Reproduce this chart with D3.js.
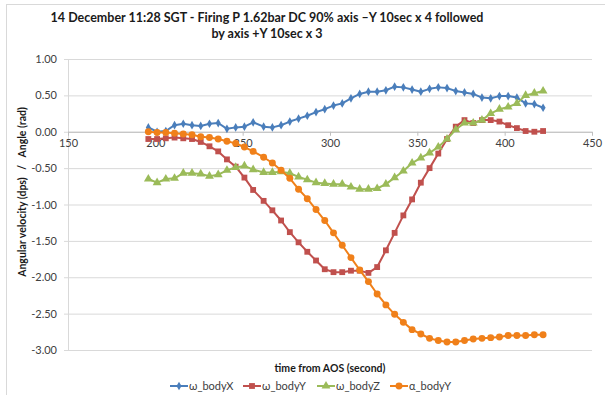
<!DOCTYPE html>
<html>
<head>
<meta charset="utf-8">
<script src="https://cdn.jsdelivr.net/npm/d3@7"></script>
<style>
  html, body { margin: 0; padding: 0; background: #fff; }
  svg { display: block; font-family: Lato, "Open Sans", sans-serif; }
  text { white-space: pre; }
</style>
</head>
<body>
<svg id="chart" width="605" height="395"></svg>
<script>
// Sample times (seconds from AOS)
const times = [196, 201, 206, 211, 216, 221, 226, 231, 236, 241, 246, 251, 256, 262, 267, 272,
  277, 282, 287, 292, 297, 302, 307, 312, 317, 322, 327, 332, 337, 342, 347, 352,
  357, 362, 367, 372, 377, 382, 387, 392, 397, 402, 407, 412, 417, 422];

const omegaX = [0.06, 0.00, 0.01, 0.09, 0.11, 0.09, 0.08, 0.11, 0.12, 0.04, 0.06, 0.07, 0.13, 0.07, 0.06, 0.09,
  0.14, 0.18, 0.22, 0.27, 0.31, 0.36, 0.39, 0.46, 0.52, 0.55, 0.55, 0.57, 0.62, 0.61, 0.58, 0.55,
  0.59, 0.61, 0.60, 0.56, 0.54, 0.52, 0.47, 0.46, 0.49, 0.49, 0.47, 0.39, 0.38, 0.33];

const omegaY = [-0.10, -0.10, -0.09, -0.08, -0.09, -0.10, -0.14, -0.20, -0.27, -0.38, -0.48, -0.63, -0.80, -0.95, -1.08, -1.22,
  -1.38, -1.52, -1.65, -1.77, -1.89, -1.93, -1.93, -1.91, -1.91, -1.94, -1.86, -1.63, -1.39, -1.15, -0.93, -0.70,
  -0.50, -0.30, -0.10, 0.07, 0.16, 0.12, 0.16, 0.16, 0.14, 0.09, 0.05, 0.01, 0.00, 0.01];

const omegaZ = [-0.65, -0.70, -0.65, -0.64, -0.57, -0.57, -0.58, -0.61, -0.59, -0.53, -0.49, -0.47, -0.52, -0.56, -0.56, -0.55,
  -0.57, -0.62, -0.66, -0.70, -0.71, -0.72, -0.72, -0.76, -0.79, -0.79, -0.78, -0.72, -0.63, -0.54, -0.43, -0.36,
  -0.29, -0.21, -0.10, 0.03, 0.12, 0.12, 0.16, 0.25, 0.31, 0.34, 0.39, 0.50, 0.53, 0.56];

const alphaY = [0.00, -0.01, -0.01, -0.02, -0.03, -0.04, -0.07, -0.08, -0.10, -0.13, -0.16, -0.21, -0.27, -0.35, -0.43, -0.53,
  -0.64, -0.79, -0.92, -1.07, -1.22, -1.39, -1.56, -1.73, -1.90, -2.06, -2.23, -2.38, -2.51, -2.62, -2.72, -2.78,
  -2.84, -2.87, -2.89, -2.89, -2.87, -2.85, -2.84, -2.83, -2.82, -2.80, -2.80, -2.80, -2.79, -2.79];

const seriesNames = ["ω_bodyX", "ω_bodyY", "ω_bodyZ", "α_bodyY"];
const seriesColors = ["#4A7EBB", "#C0504D", "#9BBB59", "#F0801A"];
const seriesSymbols = [d3.symbolDiamond, d3.symbolSquare, d3.symbolTriangle, d3.symbolCircle];
const seriesSizes = [22, 34, 34, 38];

const xTicks = [150, 200, 250, 300, 350, 400, 450];
const yTicks = [1.0, 0.5, 0.0, -0.5, -1.0, -1.5, -2.0, -2.5, -3.0];

const titleLines = ["14 December 11:28 SGT - Firing P 1.62bar DC 90% axis \u2013Y 10sec x 4 followed",
                    "by axis +Y 10sec x 3"];
const xTitle = "time from AOS (second)";
const yTitle = "Angular velocity (dps)   /   Angle (rad)";

const svg = d3.select("#chart");

// Outer chart frame
svg.append("rect")
  .attr("x", 6.5).attr("y", 4.5).attr("width", 640).attr("height", 400)
  .attr("fill", "none").attr("stroke", "#d9d9d9").attr("stroke-width", 1);

const x = d3.scaleLinear().domain([150, 450]).range([68, 592]);
const y = d3.scaleLinear().domain([-3, 1]).range([350, 59]);

// Horizontal gridlines with short outward ticks
const yAxis = d3.axisLeft(y).tickValues(yTicks).tickSize(-(592 - 68)).tickFormat(d3.format(".2f"));
const gy = svg.append("g").attr("transform", "translate(68,0)").call(yAxis);
gy.select(".domain").remove();
gy.selectAll(".tick line").attr("stroke", "#d9d9d9").attr("x1", -4);
gy.selectAll(".tick text")
  .attr("x", -11).attr("font-size", 11).attr("fill", "#404040")
  .style("font-family", "Lato, sans-serif")
  .text(d => d3.format(".2f")(d).replace("−", "-"));

// Vertical axis line
svg.append("line")
  .attr("x1", 68.5).attr("x2", 68.5).attr("y1", y(1)).attr("y2", y(-3))
  .attr("stroke", "#d9d9d9");

// Horizontal axis crossing at zero
const xAxis = d3.axisBottom(x).tickValues(xTicks).tickSize(4).tickPadding(3).tickFormat(d3.format("d"));
const gx = svg.append("g").attr("transform", `translate(0,${y(0)})`).call(xAxis);
gx.select(".domain").attr("stroke", "#bfbfbf").attr("d", `M${x(150)},0.5H${x(450)}`);
gx.selectAll(".tick line").attr("stroke", "#bfbfbf");
gx.selectAll(".tick text").attr("font-size", 11).attr("fill", "#404040")
  .style("font-family", "Lato, sans-serif");

// Series lines and markers
const allSeries = [omegaX, omegaY, omegaZ, alphaY];
const line = d3.line().x((d, i) => x(times[i])).y(d => y(d));

allSeries.forEach((vals, s) => {
  const g = svg.append("g");
  g.append("path")
    .datum(vals)
    .attr("d", line)
    .attr("fill", "none")
    .attr("stroke", seriesColors[s])
    .attr("stroke-width", 2)
    .attr("stroke-linejoin", "round");
  const sym = d3.symbol().type(seriesSymbols[s]).size(seriesSizes[s]);
  g.selectAll("path.mk")
    .data(vals)
    .join("path")
    .attr("class", "mk")
    .attr("d", sym)
    .attr("transform", (d, i) => `translate(${x(times[i])},${y(d)})`)
    .attr("fill", seriesColors[s]);
});

// Title
svg.append("g").selectAll("text")
  .data(titleLines)
  .join("text")
  .attr("x", 267).attr("y", (d, i) => 22 + i * 16)
  .attr("text-anchor", "middle")
  .attr("font-size", 12.5).attr("font-weight", "bold").attr("fill", "#1a1a1a")
  .text(d => d);

// Axis titles
svg.append("text")
  .attr("x", x(300)).attr("y", 372)
  .attr("text-anchor", "middle")
  .attr("font-size", 10.5).attr("font-weight", "bold").attr("fill", "#1a1a1a")
  .text(xTitle);

svg.append("text")
  .attr("transform", "translate(26,192) rotate(-90)")
  .attr("text-anchor", "middle")
  .attr("font-size", 10.5).attr("font-weight", "bold").attr("fill", "#1a1a1a")
  .text(yTitle);

// Legend
const legendX = [170, 243, 317, 390];
const legend = svg.append("g").attr("transform", "translate(0,386)");
seriesNames.forEach((name, s) => {
  const item = legend.append("g").attr("transform", `translate(${legendX[s]},0)`);
  item.append("line").attr("x1", 0).attr("x2", 18).attr("y1", 0).attr("y2", 0)
    .attr("stroke", seriesColors[s]).attr("stroke-width", 2);
  item.append("path").attr("d", d3.symbol().type(seriesSymbols[s]).size(seriesSizes[s]))
    .attr("transform", "translate(9,0)").attr("fill", seriesColors[s]);
  item.append("text").attr("x", 19).attr("y", 4)
    .attr("font-size", 11).attr("fill", "#404040")
    .text(name);
});
</script>
</body>
</html>
